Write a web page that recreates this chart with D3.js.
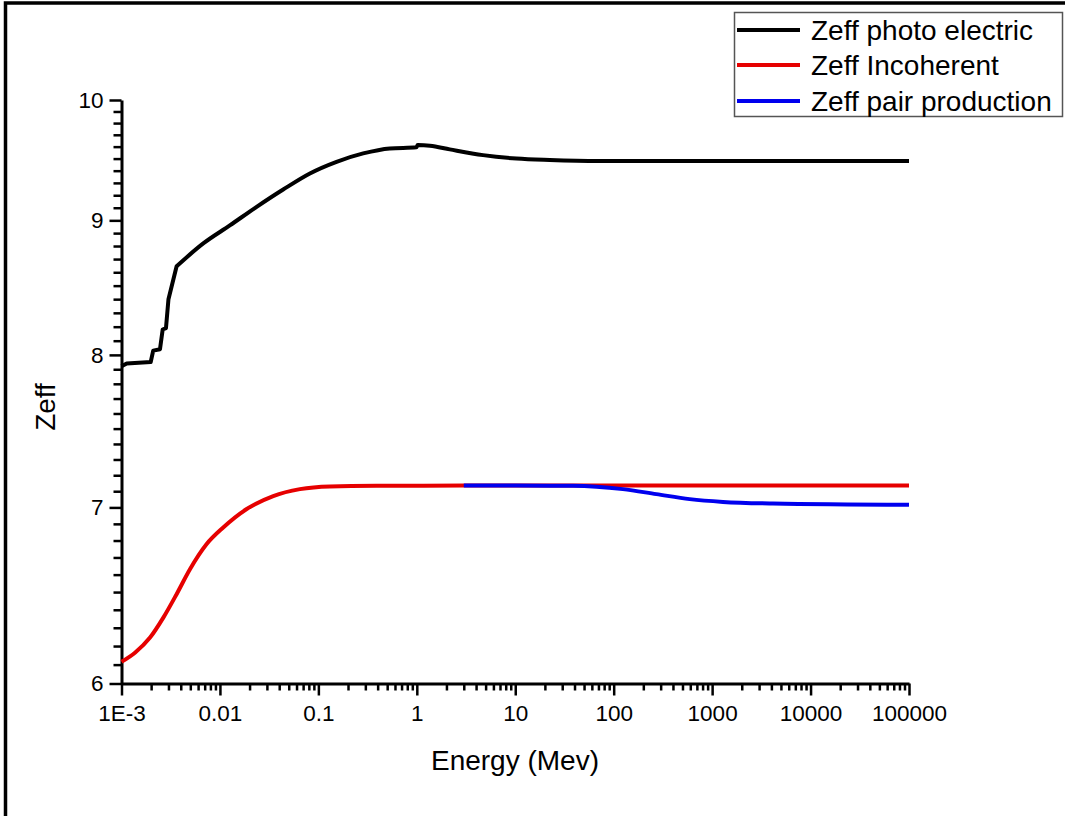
<!DOCTYPE html>
<html>
<head>
<meta charset="utf-8">
<script src="https://cdn.jsdelivr.net/npm/d3@7"></script>
<style>
  html, body { margin: 0; padding: 0; background: #fff; }
  svg { display: block; font-family: "Liberation Sans", Arial, sans-serif; }
</style>
</head>
<body>
<svg id="chart" width="1065" height="816"></svg>
<script>
// ---- data ----
const photoEnergy = [0.001, 0.00113, 0.00198, 0.0021, 0.00246, 0.00262, 0.00283, 0.003, 0.00363, 0.00677, 0.0126, 0.0236, 0.0439, 0.082, 0.153, 0.285, 0.532, 0.99, 1.02, 1.36, 2.16, 4.71, 10.3, 22.4, 72, 1000, 100000];
const photoZeff   = [7.92, 7.94, 7.95, 8.03, 8.04, 8.18, 8.19, 8.40, 8.645, 8.82, 8.96, 9.107, 9.246, 9.377, 9.473, 9.543, 9.585, 9.594, 9.613, 9.608, 9.577, 9.529, 9.50, 9.488, 9.48, 9.48, 9.48];
const photoEdgeCount = 9; // points up to the last absorption edge are joined by straight segments

const incohEnergy = [0.001, 0.00137, 0.00195, 0.00266, 0.00363, 0.00496, 0.00733, 0.0108, 0.0187, 0.0348, 0.0649, 0.131, 0.39, 3, 100000];
const incohZeff   = [6.115, 6.164, 6.246, 6.356, 6.488, 6.631, 6.779, 6.878, 6.99, 7.07, 7.113, 7.130, 7.134, 7.135, 7.135];

const pairEnergy = [3, 10, 38.6, 124, 271, 592, 1288, 4140, 100000];
const pairZeff   = [7.135, 7.135, 7.134, 7.113, 7.082, 7.051, 7.034, 7.024, 7.016];

const xTickValues = [0.001, 0.01, 0.1, 1, 10, 100, 1000, 10000, 100000];
const xTickLabels = ["1E-3", "0.01", "0.1", "1", "10", "100", "1000", "10000", "100000"];
const yTickValues = [6, 7, 8, 9, 10];
const yTickLabels = ["6", "7", "8", "9", "10"];

const seriesNames  = ["Zeff photo electric", "Zeff Incoherent", "Zeff pair production"];
const seriesColors = ["#000000", "#e60000", "#0000ee"];

(function () {
const svg = d3.select("#chart");
const mLeft = 121.5, mRight = 909, mTop = 100, mBottom = 683.5;

svg.append("rect").attr("width", 1065).attr("height", 816).attr("fill", "#fff");

const x = d3.scaleLog().domain([0.001, 100000]).range([mLeft, mRight]);
const y = d3.scaleLog().domain([6, 10]).range([mBottom, mTop]);

// outer frame (top and left edges)
svg.append("path").attr("d", "M5.5,816V3H1065").attr("fill", "none")
  .attr("stroke", "#000").attr("stroke-width", 3.5);

// minor ticks
const xMinor = [];
for (let d = -3; d < 5; d++) for (let k = 2; k <= 9; k++) xMinor.push(k * Math.pow(10, d));
const yMinor = [];
for (let v = 61; v < 100; v++) if (v % 10 !== 0) yMinor.push(v / 10);

svg.append("g").attr("transform", `translate(0,${mBottom})`)
  .call(d3.axisBottom(x).tickValues(xMinor).tickSize(7).tickFormat(""))
  .call(g => g.select(".domain").remove())
  .call(g => g.selectAll("line").attr("stroke-width", 2.5));

svg.append("g").attr("transform", `translate(${mLeft},0)`)
  .call(d3.axisLeft(y).tickValues(yMinor).tickSize(8).tickFormat(""))
  .call(g => g.select(".domain").remove())
  .call(g => g.selectAll("line").attr("stroke-width", 2.5));

// major axes
const xAxis = svg.append("g").attr("transform", `translate(0,${mBottom})`)
  .call(d3.axisBottom(x).tickValues(xTickValues).tickSize(12).tickSizeOuter(0).tickPadding(10)
    .tickFormat((d, i) => xTickLabels[i]));
xAxis.select(".domain").attr("stroke-width", 3);
xAxis.selectAll("line").attr("stroke-width", 2.5);
xAxis.selectAll("text").attr("font-size", 22.5).attr("fill", "#000")
  .attr("font-family", "Liberation Sans, Arial, sans-serif");

const yAxis = svg.append("g").attr("transform", `translate(${mLeft},0)`)
  .call(d3.axisLeft(y).tickValues(yTickValues).tickSize(12).tickSizeOuter(0).tickPadding(6)
    .tickFormat((d, i) => yTickLabels[i]));
yAxis.select(".domain").attr("stroke-width", 3);
yAxis.selectAll("line").attr("stroke-width", 2.5);
yAxis.selectAll("text").attr("font-size", 22.5).attr("fill", "#000")
  .attr("font-family", "Liberation Sans, Arial, sans-serif");

// axis titles
svg.append("text").attr("x", 515).attr("y", 770).attr("text-anchor", "middle")
  .attr("font-size", 28).text("Energy (Mev)");
svg.append("text").attr("transform", "translate(55,407) rotate(-90)").attr("text-anchor", "middle")
  .attr("font-size", 28).text("Zeff");

// lines
const plot = svg.append("g");
const lineLin = d3.line().x(d => x(d[0])).y(d => y(d[1])).curve(d3.curveLinear);
const lineSmooth = d3.line().x(d => x(d[0])).y(d => y(d[1])).curve(d3.curveMonotoneX);
const toPts = (es, zs) => es.map((e, j) => [e, zs[j]]);

const photoPts = toPts(photoEnergy, photoZeff);
const photoPath = lineLin(photoPts.slice(0, photoEdgeCount)) +
  lineSmooth(photoPts.slice(photoEdgeCount - 1)).replace(/^M[^CLZ]*/, "");
plot.append("path").attr("d", photoPath).attr("fill", "none")
  .attr("stroke", seriesColors[0]).attr("stroke-width", 4)
  .attr("stroke-linejoin", "round");

[[incohEnergy, incohZeff], [pairEnergy, pairZeff]].forEach((s, k) => {
  plot.append("path").attr("d", lineSmooth(toPts(s[0], s[1]))).attr("fill", "none")
    .attr("stroke", seriesColors[k + 1]).attr("stroke-width", 4)
    .attr("stroke-linejoin", "round");
});

// legend
const lg = svg.append("g");
lg.append("rect").attr("x", 734.5).attr("y", 12.5).attr("width", 328).attr("height", 104)
  .attr("fill", "#fff").attr("stroke", "#555").attr("stroke-width", 1.5);
const rowY = [30, 65, 101];
seriesNames.forEach((name, i) => {
  lg.append("line").attr("x1", 737).attr("x2", 800).attr("y1", rowY[i]).attr("y2", rowY[i])
    .attr("stroke", seriesColors[i]).attr("stroke-width", 4);
  lg.append("text").attr("x", 811).attr("y", rowY[i] + 10).attr("font-size", 28)
    .attr("fill", "#000").text(name);
});
})();
</script>
</body>
</html>
